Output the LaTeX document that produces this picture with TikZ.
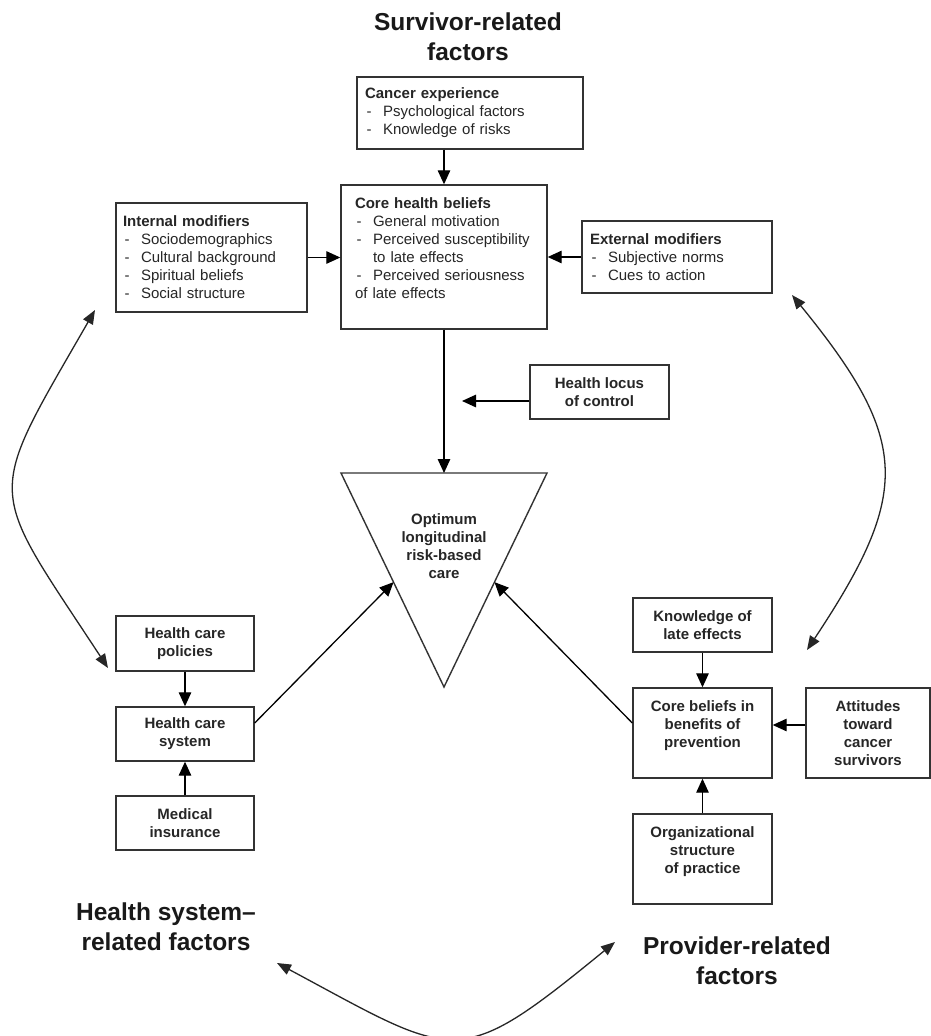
\documentclass[tikz,border=0pt]{standalone}
\usepackage{fontspec}
\setmainfont{Liberation Sans}
\usetikzlibrary{arrows.meta,calc}
\newcommand\boxfont{\fontsize{15}{18}\selectfont}
\newcommand\titlefont{\fontsize{24.5}{30}\selectfont\bfseries}
\newcommand\dashitem[1]{\hspace*{1.5pt}\makebox[16.5pt][l]{-}#1}
\begin{document}
\begin{tikzpicture}[x=1pt,y=-1pt,
  box/.style={draw=black!80, line width=1.4pt, inner sep=0pt, font=\boxfont, text=black!85},
  cbox/.style={box, align=center, font=\boxfont\bfseries},
  lbox/.style={box, align=left},
  arr/.style={line width=1.3pt, -{Triangle[length=14pt,width=12.5pt]}},
  darr/.style={line width=1.3pt, draw=black!85, {Triangle[length=14pt,width=11pt]}-{Triangle[length=14pt,width=11pt]}},
  title/.style={font=\titlefont, align=center, inner sep=0pt, text=black!90}]
\useasboundingbox (0,0) rectangle (931,1036);
\fill[white] (0,0) rectangle (931,1036);

% titles
\node[title] (survivor) at (468,37) {Survivor-related\\factors};
\node[title] (healthsys) at (166,927) {Health system–\\related factors};
\node[title] (provider) at (737,961) {Provider-related\\factors};

% survivor boxes
\node[lbox, minimum width=226pt, minimum height=72pt, text width=210pt] (cancer) at (470,113)
  {\textbf{Cancer experience}\\ \dashitem{Psychological factors}\\ \dashitem{Knowledge of risks}};
\node[lbox, minimum width=206pt, minimum height=144pt, text width=178pt] (core) at (444,257)
  {\textbf{Core health beliefs}\\ \dashitem{General motivation}\\ \dashitem{Perceived susceptibility}\\ \hspace*{18pt}to late effects\\ \dashitem{Perceived seriousness}\\ of late effects\\ \mbox{}};
\node[lbox, minimum width=191pt, minimum height=109pt, text width=177pt] (internal) at (211.5,257.5)
  {\textbf{Internal modifiers}\\ \dashitem{Sociodemographics}\\ \dashitem{Cultural background}\\ \dashitem{Spiritual beliefs}\\ \dashitem{Social structure}};
\node[lbox, minimum width=190pt, minimum height=72pt, text width=174pt] (external) at (677,257)
  {\textbf{External modifiers}\\ \dashitem{Subjective norms}\\ \dashitem{Cues to action}};
\node[cbox, minimum width=139pt, minimum height=54pt] (locus) at (599.5,392) {Health locus\\of control};

% health system boxes
\node[cbox, minimum width=138pt, minimum height=55pt] (policies) at (185,643.5) {Health care\\policies};
\node[cbox, minimum width=138pt, minimum height=54pt] (system) at (185,734) {Health care\\system};
\node[cbox, minimum width=138pt, minimum height=54pt] (insurance) at (185,823) {Medical\\insurance};

% provider boxes
\node[cbox, minimum width=139pt, minimum height=54pt] (knowledge) at (702.5,625) {Knowledge of\\late effects};
\node[cbox, minimum width=139pt, minimum height=90pt] (corebel) at (702.5,733) {Core beliefs in\\benefits of\\prevention\\ \mbox{}};
\node[cbox, minimum width=124pt, minimum height=90pt] (attitudes) at (868,733) {Attitudes\\toward\\cancer\\survivors};
\node[cbox, minimum width=139pt, minimum height=90pt] (org) at (702.5,859) {Organizational\\structure\\of practice\\ \mbox{}};

% triangle
\coordinate (tl) at (341,473);
\coordinate (tr) at (547,473);
\coordinate (tb) at (444,687);
\draw[line width=1.4pt, draw=black!80, line join=miter] (tl) -- (tr) -- (tb) -- cycle;
\node[font=\boxfont\bfseries, align=center, inner sep=0pt, text=black!85] (care) at (444,546) {Optimum\\longitudinal\\risk-based\\care};

% connectors
\draw[arr] (cancer.south -| core.north) -- (core.north);
\draw[arr] (internal.east) -- (internal.east -| core.west);
\draw[arr] (external.west) -- (external.west -| core.east);
\draw[arr] (core.south) -- (core.south |- tl);
\coordinate (locusend) at (462,401);
\draw[arr] (locus.west |- locusend) -- (locusend);
\draw[arr] (policies) -- (system);
\draw[arr] (insurance) -- (system);
\draw[arr] ([yshift=11pt]system.east) -- ($(tl)!0.51!(tb)$);
\draw[arr] ([yshift=10pt]corebel.west) -- ($(tr)!0.51!(tb)$);
\draw[arr] (knowledge) -- (corebel);
\draw[arr] (org) -- (corebel);
\draw[arr] ([yshift=8pt]attitudes.west) -- ([yshift=8pt]corebel.east);

% curved double arrows
\coordinate (lc1) at (95,310);
\coordinate (lc2) at (108,668);
\draw[darr] (lc1) .. controls (-16,503) and (-14,482) .. (lc2);
\coordinate (rc1) at (792,295);
\coordinate (rc2) at (807,650);
\draw[darr] (rc1) .. controls (911,441) and (911,493) .. (rc2);
\coordinate (bc1) at (277,963);
\coordinate (bc2) at (615,942);
\draw[darr] (bc1) .. controls (458,1060) and (456,1072) .. (bc2);
\end{tikzpicture}
\end{document}
